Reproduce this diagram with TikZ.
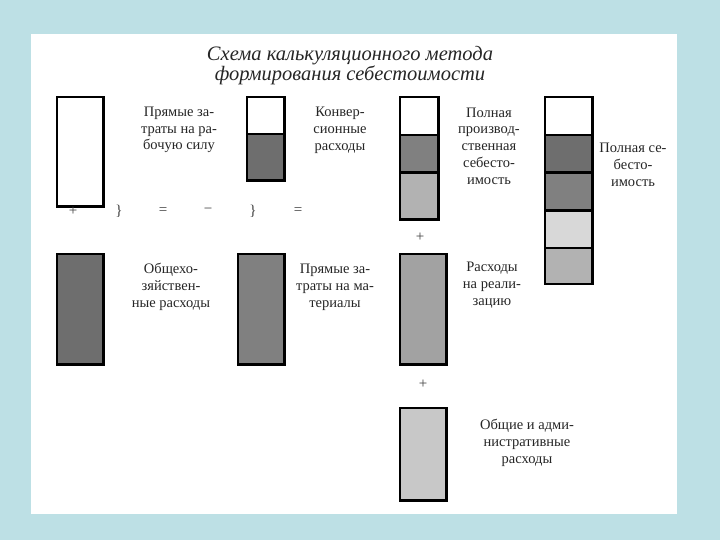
\documentclass[tikz,border=0pt]{standalone}
\usepackage{fontspec}
\setmainfont{Liberation Serif}
\definecolor{bgc}{HTML}{BDE0E5}
\definecolor{gA}{HTML}{6E6E6E}
\definecolor{gB}{HTML}{808080}
\definecolor{gC}{HTML}{A2A2A2}
\definecolor{gD}{HTML}{B2B2B2}
\definecolor{gE}{HTML}{D8D8D8}
\definecolor{gF}{HTML}{C8C8C8}
\begin{document}
\begin{tikzpicture}[x=1pt,y=-1pt,
  seg/.style={draw=black,line width=1.2pt,inner sep=0pt,anchor=north west,minimum width=#1},
  seg/.default=45pt,
  frame/.style={draw=black,line width=2.8pt},
  lbl/.style={align=center,font=\fontsize{14.5}{16.8}\selectfont,text=black!85,inner sep=0pt},
  sym/.style={font=\fontsize{15}{16}\selectfont,text=black!75,inner sep=0pt},
  ttl/.style={align=center,font=\itshape\fontsize{20.5}{20}\selectfont,text=black!85,inner sep=0pt}]
\useasboundingbox (0,0) rectangle (720,540);
\fill[bgc] (0,0) rectangle (720,540);
\fill[white] (31,34) rectangle (677,514);
% title
\node[ttl] (title) at (350,66) {Схема калькуляционного метода\\формирования себестоимости};
% box 1
\node[seg,fill=white,minimum height=108pt] (b1) at (57,97) {};
\draw[frame] (b1.north west) rectangle (b1.south east);
\node[lbl] (t1) at (179,130) {Прямые за-\\траты на ра-\\бочую силу};
% box 2
\node[seg=36pt,fill=white,minimum height=36pt] (b2a) at (247,97) {};
\node[seg=36pt,fill=gA,minimum height=45pt] (b2b) at (b2a.south west) {};
\draw[frame] (b2a.north west) rectangle (b2b.south east);
\node[lbl] (t2) at (340,130) {Конвер-\\сионные\\расходы};
% box 3
\node[seg=37pt,fill=white,minimum height=37pt] (b3a) at (400,97) {};
\node[seg=37pt,fill=gB,minimum height=36pt] (b3b) at (b3a.south west) {};
\node[seg=37pt,fill=gD,minimum height=46pt] (b3c) at (b3b.south west) {};
\draw[frame] (b3a.north west) rectangle (b3c.south east);
\node[lbl] (t3) at (489,146) {Полная\\производ-\\ственная\\себесто-\\имость};
% box 4
\node[seg=46pt,fill=white,minimum height=37pt] (b4a) at (545,97) {};
\node[seg=46pt,fill=gA,minimum height=36pt] (b4b) at (b4a.south west) {};
\node[seg=46pt,fill=gB,minimum height=37pt] (b4c) at (b4b.south west) {};
\node[seg=46pt,fill=gE,minimum height=36pt] (b4d) at (b4c.south west) {};
\node[seg=46pt,fill=gD,minimum height=35pt] (b4e) at (b4d.south west) {};
\draw[frame] (b4a.north west) rectangle (b4e.south east);
\node[lbl] (t4) at (633,165) {Полная се-\\бесто-\\имость};
% symbol row
\node[sym] (s1) at (73,211) {+};
\node[sym] (s2) at (119,211) {\}};
\node[sym] (s3) at (163,211) {=};
\node[sym] (s4) at (208,211) {−};
\node[sym] (s5) at (253,211) {\}};
\node[sym] (s6) at (298,211) {=};
\node[sym] (s7) at (420,237) {+};
\node[sym] (s8) at (423,384) {+};
% box 5
\node[seg,fill=gA,minimum height=109pt] (b5) at (57,254) {};
\draw[frame] (b5.north west) rectangle (b5.south east);
\node[lbl] (t5) at (171,287) {Общехо-\\зяйствен-\\ные расходы};
% box 6
\node[seg,fill=gB,minimum height=109pt] (b6) at (238,254) {};
\draw[frame] (b6.north west) rectangle (b6.south east);
\node[lbl] (t6) at (335,287) {Прямые за-\\траты на ма-\\териалы};
% box 7
\node[seg,fill=gC,minimum height=109pt] (b7) at (400,254) {};
\draw[frame] (b7.north west) rectangle (b7.south east);
\node[lbl] (t7) at (492,285) {Расходы\\на реали-\\зацию};
% box 8
\node[seg,fill=gF,minimum height=91pt] (b8) at (400,408) {};
\draw[frame] (b8.north west) rectangle (b8.south east);
\node[lbl] (t8) at (527,443) {Общие и адми-\\нистративные\\расходы};
\end{tikzpicture}
\end{document}
